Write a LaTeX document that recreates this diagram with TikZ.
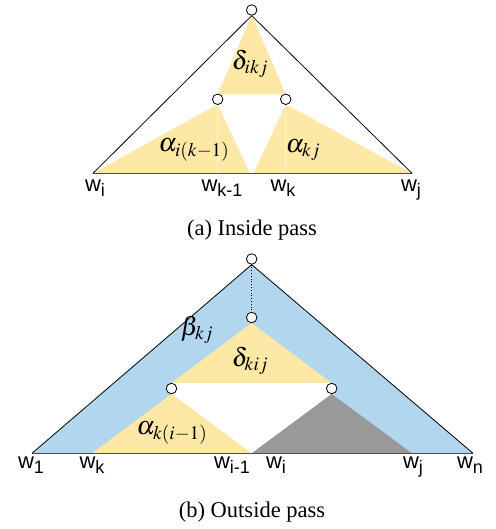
\documentclass[tikz,border=0pt]{standalone}
\usepackage{mathptmx}
\usepackage[no-math]{fontspec}
\setmainfont{Liberation Serif}
\newfontfamily\wfont{Liberation Sans}
\definecolor{tyellow}{RGB}{253,232,166}
\definecolor{tblue}{RGB}{178,214,238}
\definecolor{tgray}{RGB}{153,153,153}
\definecolor{tline}{RGB}{254,243,212}
\newcommand\wlab[1]{{\wfont\fontsize{22}{22}\selectfont w\raisebox{-5pt}{\fontsize{18}{18}\selectfont #1}}}
\begin{document}
\begin{tikzpicture}[x=1pt,y=-1pt,
  dot/.style={circle,draw,fill=white,inner sep=0pt,minimum size=10.5pt,line width=0.8pt},
  edge/.style={line width=0.8pt},
  baseline/.style={line width=0.5pt,black!70},
  wlabel/.style={anchor=base,inner sep=0pt},
  mlabel/.style={inner sep=0pt,font=\fontsize{26}{30}\selectfont},
  caption/.style={anchor=base,inner sep=0pt,font=\fontsize{22.5}{26}\selectfont}]
\useasboundingbox (0,0) rectangle (495,529);

% ---------------- (a) Inside pass ----------------
\coordinate (aTc) at (251.7,10);
\coordinate (aLc) at (217.7,99.3);
\coordinate (aRc) at (285.7,99.3);
\coordinate (aL) at (93,173.3);
\coordinate (aR) at (412,173.3);
\coordinate (aM1) at (250,173.3);
\coordinate (aM2) at (253.5,173.3);
\coordinate (aK1) at (217.7,173.3);
\coordinate (aK) at (285.7,173.3);
\fill[tyellow] ([yshift=-5pt]aTc) -- ([yshift=5pt]aLc) -- ([yshift=5pt]aRc) -- cycle;
\fill[tyellow] ([yshift=-5pt]aLc) -- (aL) -- (aM1) -- cycle;
\fill[tyellow] ([yshift=-5pt]aRc) -- (aM2) -- (aR) -- cycle;
\node[dot] (at) at (aTc) {};
\node[dot] (al) at (aLc) {};
\node[dot] (ar) at (aRc) {};
\draw[tline, line width=0.8pt] (al.south) -- (aK1);
\draw[tline, line width=0.8pt] (ar.south) -- (aK);
\draw[baseline] (aL) -- (aR);
\draw[edge] (at.south) -- (aL);
\draw[edge] (at.south) -- (aR);
\node[mlabel] (dikj) at (250,64) {$\delta_{ikj}$};
\node[mlabel] (aik) at (194,150) {$\alpha_{i(k-1)}$};
\node[mlabel] (akj) at (303,150) {$\alpha_{kj}$};
\node[wlabel] (wi) at (95,192) {\wlab{i}};
\node[wlabel] (wk1) at (222,192) {\wlab{k-1}};
\node[wlabel] (wk) at (283,192) {\wlab{k}};
\node[wlabel] (wj) at (411,192) {\wlab{j}};
\node[caption] (capa) at (252,235) {(a) Inside pass};

% ---------------- (b) Outside pass ----------------
\coordinate (bTc) at (251.7,259);
\coordinate (bMc) at (251.7,317.5);
\coordinate (bLc) at (171.5,388.5);
\coordinate (bRc) at (331.7,388.5);
\coordinate (bL) at (32,453.3);
\coordinate (bR) at (473,453.3);
\coordinate (bK) at (92,453.3);
\coordinate (bJ) at (412,453.3);
\coordinate (bI) at (251.7,453.3);
\fill[tblue] ([yshift=-5.5pt]bTc) -- (bL) -- (bR) -- cycle;
\fill[tyellow] ([yshift=-5.5pt]bMc) -- ([yshift=5.5pt]bLc) -- ([yshift=5.5pt]bRc) -- cycle;
\fill[white] ([yshift=5.5pt]bLc) -- ([yshift=5.5pt]bRc) -- ([yshift=-5.5pt]bRc) -- (bI) -- ([yshift=-5.5pt]bLc) -- cycle;
\fill[tyellow] ([yshift=-5.5pt]bLc) -- (bK) -- (bI) -- cycle;
\fill[tgray] ([yshift=-5.5pt]bRc) -- (bI) -- (bJ) -- cycle;
\node[dot] (bt) at (bTc) {};
\node[dot] (bm) at (bMc) {};
\node[dot] (bl) at (bLc) {};
\node[dot] (br) at (bRc) {};
\draw[baseline] (bL) -- (bR);
\draw[edge] (bt.south) -- (bL);
\draw[edge] (bt.south) -- (bR);
\draw[line width=0.8pt, dotted] (bt.south) -- (bm.north);
\node[mlabel] (bkj) at (197,330) {$\beta_{kj}$};
\node[mlabel] (dkij) at (250,361) {$\delta_{kij}$};
\node[mlabel] (aki) at (172,433) {$\alpha_{k(i-1)}$};
\node[wlabel] (w1) at (31,468) {\wlab{1}};
\node[wlabel] (wkb) at (92,468) {\wlab{k}};
\node[wlabel] (wi1) at (232,468) {\wlab{i-1}};
\node[wlabel] (wib) at (276,468) {\wlab{i}};
\node[wlabel] (wjb) at (413,468) {\wlab{j}};
\node[wlabel] (wn) at (470,468) {\wlab{n}};
\node[caption] (capb) at (252,517) {(b) Outside pass};
\end{tikzpicture}
\end{document}
